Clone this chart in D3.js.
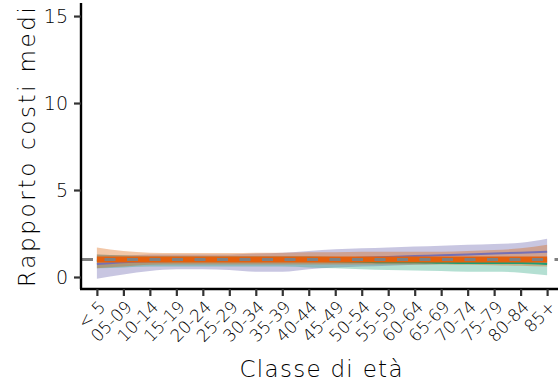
<!DOCTYPE html>
<html><head><meta charset="utf-8">
<script src="https://cdn.jsdelivr.net/npm/d3@7"></script>
<style>body{margin:0;background:#fff}svg{display:block}text{font-family:"DejaVu Sans",sans-serif;font-weight:200;}</style>
</head><body><div id="c"></div>
<script>
const ages = ["< 5","05-09","10-14","15-19","20-24","25-29","30-34","35-39","40-44","45-49","50-54","55-59","60-64","65-69","70-74","75-79","80-84","85+"];
const yTicks = [0,5,10,15];

const purpleMean = [0.75,0.85,0.9,0.92,0.93,0.93,0.95,0.98,1.0,1.05,1.1,1.15,1.2,1.25,1.3,1.35,1.4,1.45];
const purpleHi   = [1.3,1.25,1.3,1.3,1.3,1.3,1.35,1.4,1.5,1.6,1.65,1.7,1.75,1.8,1.85,1.9,1.97,2.2];
const purpleLo   = [-0.1,0.15,0.35,0.45,0.45,0.4,0.3,0.3,0.45,0.55,0.6,0.65,0.7,0.75,0.8,0.85,0.85,0.8];

const tealMean = [0.95,0.95,0.95,0.95,0.95,0.95,0.95,0.95,0.93,0.9,0.88,0.85,0.85,0.82,0.8,0.8,0.8,0.75];
const tealHi   = [1.3,1.25,1.2,1.2,1.2,1.2,1.2,1.2,1.2,1.15,1.15,1.15,1.12,1.1,1.1,1.1,1.1,1.1];
const tealLo   = [0.5,0.55,0.6,0.6,0.6,0.6,0.6,0.6,0.55,0.5,0.45,0.4,0.38,0.35,0.3,0.3,0.25,0.1];

const orangeMean = [1.0,1.0,1.0,1.0,1.0,1.0,1.0,1.0,1.0,1.0,1.0,1.0,1.0,1.0,1.0,1.0,1.0,1.0];
const orangeHi   = [1.7,1.5,1.4,1.38,1.38,1.38,1.4,1.4,1.42,1.42,1.45,1.45,1.45,1.45,1.5,1.55,1.65,1.85];
const orangeLo   = [0.5,0.6,0.7,0.72,0.72,0.72,0.72,0.72,0.72,0.72,0.72,0.72,0.72,0.72,0.7,0.68,0.65,0.6];

const refValue = 1;

const series = [
  {name:"purple", color:"#7570B3", fillOp:0.4, mean:purpleMean, lo:purpleLo, hi:purpleHi, lw:2},
  {name:"teal", color:"#1B9E77", fillOp:0.33, mean:tealMean, lo:tealLo, hi:tealHi, lw:2},
  {name:"orange", color:"#D95F02", fillOp:0.35, mean:orangeMean, lo:orangeLo, hi:orangeHi, lw:6}
];

const W=558,H=386;
const mL=81, mR=563, mT=3, mB=289;
const svg=d3.select("#c").append("svg").attr("width",W).attr("height",H);

const n=ages.length;
const step=(mR-mL)/(n-1+1.2);
const x=d3.scalePoint().domain(ages).range([mL+0.6*step, mR-0.6*step]);
const y=d3.scaleLinear().domain([-0.69,15.75]).range([mB,mT]);

const g=svg.append("g");
const area=d3.area().x((d,i)=>x(ages[i])).y0(d=>y(d[0])).y1(d=>y(d[1])).curve(d3.curveMonotoneX);
const line=d3.line().x((d,i)=>x(ages[i])).y(d=>y(d)).curve(d3.curveMonotoneX);

series.forEach(s=>{
  g.append("path").datum(s.lo.map((v,i)=>[v,s.hi[i]])).attr("d",area)
   .attr("fill",s.color).attr("fill-opacity",s.fillOp).attr("stroke","none");
});
series.forEach(s=>{
  g.append("path").datum(s.mean).attr("d",line).attr("fill","none")
   .attr("stroke", s.name==="orange" ? "#E4600E" : s.color).attr("stroke-width",s.lw);
});

// reference line
g.append("line").attr("x1",mL+1).attr("x2",W).attr("y1",y(refValue)).attr("y2",y(refValue))
 .attr("stroke","#808080").attr("stroke-width",3).attr("stroke-dasharray","11,11.5");

// axes
const ya=svg.append("g").attr("transform",`translate(${mL},0)`)
  .call(d3.axisLeft(y).tickValues(yTicks).tickSize(7).tickPadding(6));
ya.select(".domain").attr("d",`M0,${mT}V${mB}`).attr("stroke","#000").attr("stroke-width",2.4);
ya.selectAll(".tick line").attr("stroke","#333").attr("stroke-width",2.2);
ya.selectAll(".tick text").attr("font-size",19).attr("fill","#000");

const xa=svg.append("g").attr("transform",`translate(0,${mB})`)
  .call(d3.axisBottom(x).tickSize(7).tickPadding(0));
xa.select(".domain").attr("d",`M${mL-1},0H${W}`).attr("stroke","#000").attr("stroke-width",2.4);
xa.selectAll(".tick line").attr("stroke","#333").attr("stroke-width",2.2);
xa.selectAll(".tick text").attr("font-size",17).attr("fill","#000")
  .attr("text-anchor","end").attr("dy",0).attr("y",0)
  .attr("transform","translate(9,19) rotate(-45)");

svg.append("text").attr("x",321).attr("y",377).attr("text-anchor","middle")
  .attr("font-size",23).attr("fill","#000")
  .attr("textLength",163).attr("lengthAdjust","spacing").text("Classe di età");
svg.append("text").attr("transform","translate(35,147) rotate(-90)").attr("text-anchor","middle")
  .attr("font-size",23).attr("fill","#000")
  .attr("textLength",280).attr("lengthAdjust","spacing").text("Rapporto costi medi");
</script></body></html>
